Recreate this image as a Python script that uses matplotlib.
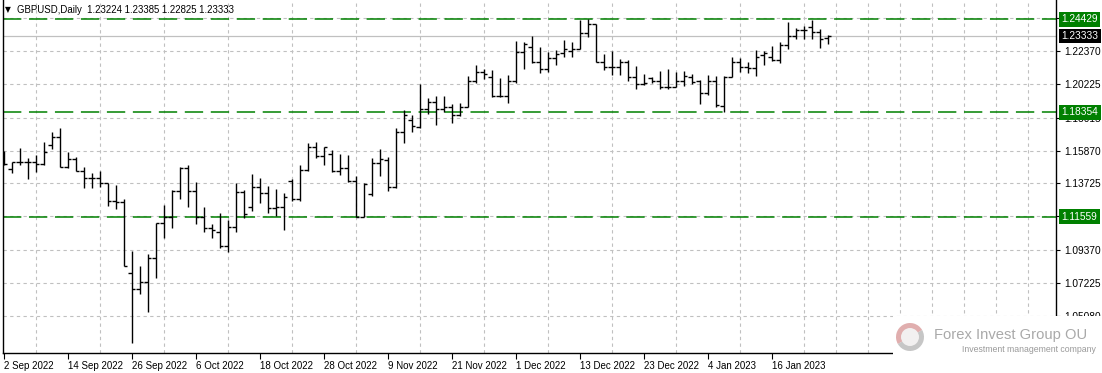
import matplotlib.pyplot as plt
from matplotlib.patches import Rectangle, Wedge, Circle

# GBPUSD daily bars, 2 Sep 2022 .. 25 Jan 2023
opens = [1.1513, 1.1465, 1.1511, 1.1511, 1.1511, 1.1500, 1.1624, 1.1674, 1.1483, 1.1530,
         1.1457, 1.1407, 1.1411, 1.1378, 1.1259, 1.1250, 1.0787, 1.0683, 1.0729, 1.0885,
         1.1113, 1.1157, 1.1324, 1.1472, 1.1324, 1.1157, 1.1081, 1.1054, 1.0965, 1.1091,
         1.1320, 1.1222, 1.1352, 1.1309, 1.1211, 1.1217, 1.1391, 1.1272, 1.1459, 1.1611,
         1.1552, 1.1565, 1.1454, 1.1476, 1.1387, 1.1157, 1.1302, 1.1506, 1.1526, 1.1352,
         1.1706, 1.1787, 1.1743, 1.1856, 1.1904, 1.1856, 1.1874, 1.1817, 1.1874, 1.2043,
         1.2098, 1.2069, 1.1945, 1.1943, 1.2043, 1.2228, 1.2263, 1.2167, 1.2121, 1.2189,
         1.2221, 1.2234, 1.2252, 1.2352, 1.2413, 1.2167, 1.2134, 1.2134, 1.2163, 1.2065,
         1.2021, 1.2058, 1.2043, 1.2004, 1.2004, 1.2041, 1.2069, 1.2043, 1.1961, 1.2043,
         1.1878, 1.2069, 1.2163, 1.2134, 1.2128, 1.2210, 1.2200, 1.2178, 1.2276, 1.2334,
         1.2373, 1.2395, 1.2363, 1.23224]
highs = [1.1587, 1.1515, 1.1602, 1.1537, 1.1559, 1.1641, 1.1706, 1.1732, 1.1580, 1.1548,
         1.1478, 1.1439, 1.1457, 1.1378, 1.1363, 1.1270, 1.0933, 1.0835, 1.0913, 1.1113,
         1.1233, 1.1330, 1.1483, 1.1493, 1.1380, 1.1222, 1.1107, 1.1178, 1.1135, 1.1378,
         1.1330, 1.1435, 1.1407, 1.1359, 1.1337, 1.1309, 1.1400, 1.1493, 1.1639, 1.1641,
         1.1613, 1.1591, 1.1565, 1.1556, 1.1422, 1.1378, 1.1541, 1.1596, 1.1548, 1.1732,
         1.1852, 1.1819, 1.2021, 1.1932, 1.1943, 1.1943, 1.1889, 1.1895, 1.2074, 1.2145,
         1.2119, 1.2113, 1.2058, 1.2078, 1.2304, 1.2293, 1.2334, 1.2261, 1.2232, 1.2243,
         1.2308, 1.2293, 1.2440, 1.2443, 1.2413, 1.2217, 1.2237, 1.2184, 1.2178, 1.2139,
         1.2087, 1.2065, 1.2106, 1.2119, 1.2097, 1.2106, 1.2087, 1.2047, 1.2080, 1.2076,
         1.2074, 1.2200, 1.2189, 1.2167, 1.2243, 1.2237, 1.2271, 1.2293, 1.2428, 1.2384,
         1.2400, 1.2440, 1.2380, 1.23385]
lows = [1.1493, 1.1439, 1.1493, 1.1400, 1.1450, 1.1493, 1.1596, 1.1483, 1.1472, 1.1457,
        1.1346, 1.1346, 1.1348, 1.1228, 1.1207, 1.0837, 1.0331, 1.0650, 1.0537, 1.0759,
        1.1020, 1.1081, 1.1272, 1.1222, 1.1107, 1.1054, 1.1015, 1.0950, 1.0924, 1.1054,
        1.1146, 1.1196, 1.1248, 1.1178, 1.1163, 1.1070, 1.1261, 1.1261, 1.1454, 1.1541,
        1.1493, 1.1450, 1.1428, 1.1383, 1.1156, 1.1152, 1.1293, 1.1424, 1.1326, 1.1341,
        1.1639, 1.1706, 1.1732, 1.1824, 1.1754, 1.1841, 1.1769, 1.1813, 1.1869, 1.2030,
        1.2052, 1.1934, 1.1939, 1.1895, 1.2030, 1.2119, 1.2156, 1.2095, 1.2100, 1.2143,
        1.2200, 1.2197, 1.2247, 1.2330, 1.2163, 1.2113, 1.2080, 1.2080, 1.2043, 1.1987,
        1.2013, 1.2030, 1.1991, 1.1991, 1.2000, 1.2011, 1.2021, 1.1891, 1.1950, 1.1874,
        1.18354, 1.2065, 1.2102, 1.2091, 1.2076, 1.2145, 1.2171, 1.2156, 1.2247, 1.2313,
        1.2313, 1.2313, 1.2254, 1.22825]
closes = [1.1500, 1.1511, 1.1511, 1.1511, 1.1500, 1.1576, 1.1674, 1.1483, 1.1530, 1.1457,
          1.1411, 1.1411, 1.1378, 1.1259, 1.1254, 1.0837, 1.0683, 1.0729, 1.0885, 1.1113,
          1.1157, 1.1324, 1.1472, 1.1324, 1.1157, 1.1085, 1.1070, 1.0965, 1.1091, 1.1320,
          1.1172, 1.1352, 1.1309, 1.1211, 1.1217, 1.1283, 1.1272, 1.1459, 1.1611, 1.1552,
          1.1611, 1.1454, 1.1476, 1.1387, 1.1157, 1.1372, 1.1506, 1.1530, 1.1352, 1.1706,
          1.1822, 1.1750, 1.1856, 1.1904, 1.1856, 1.1874, 1.1817, 1.1874, 1.2043, 1.2098,
          1.2087, 1.1945, 1.1943, 1.2043, 1.2228, 1.2284, 1.2167, 1.2121, 1.2189, 1.2217,
          1.2250, 1.2252, 1.2352, 1.2413, 1.2167, 1.2134, 1.2134, 1.2163, 1.2065, 1.2021,
          1.2026, 1.2043, 1.2000, 1.2004, 1.2043, 1.2076, 1.2037, 1.1961, 1.2043, 1.1885,
          1.2069, 1.2163, 1.2130, 1.2128, 1.2195, 1.2221, 1.2178, 1.2276, 1.2334, 1.2373,
          1.2373, 1.2363, 1.2315, 1.23333]

date_ticks = [0, 8, 16, 24, 32, 40, 48, 56, 64, 72, 80, 88, 96]
date_labels = ["2 Sep 2022", "14 Sep 2022", "26 Sep 2022", "6 Oct 2022", "18 Oct 2022",
               "28 Oct 2022", "9 Nov 2022", "21 Nov 2022", "1 Dec 2022", "13 Dec 2022",
               "23 Dec 2022", "4 Jan 2023", "16 Jan 2023"]
price_ticks = [1.24515, 1.22370, 1.20225, 1.18015, 1.15870, 1.13725, 1.11580, 1.09370, 1.07225, 1.05080]
levels = [1.24429, 1.18354, 1.11559]
last_price = 1.23333

W, H = 1102, 373
fig = plt.figure(figsize=(W / 100, H / 100), dpi=100)
fig.patch.set_facecolor("white")
ax = fig.add_axes([2.5 / W, 20 / H, (1056 - 2.5) / W, 353 / H])

x = list(range(len(opens)))
ax.vlines(x, lows, highs, color="black", lw=1.0, zorder=3)
ax.hlines(opens, [i - 0.42 for i in x], x, color="black", lw=1.0, zorder=3)
ax.hlines(closes, x, [i + 0.42 for i in x], color="black", lw=1.0, zorder=3)

for lv in levels:
    ax.axhline(lv, color="#008000", lw=1.1, dashes=(12, 5), zorder=2)
ax.axhline(last_price, color="#c0c0c0", lw=0.9, zorder=1)

ax.set_xlim(-0.125, 131.56)
ax.set_ylim(1.02672, 1.25687)

ax.set_xticks(date_ticks)
ax.set_xticklabels(date_labels)
ax.set_xticks(range(0, 132, 4), minor=True)
ax.yaxis.tick_right()
ax.set_yticks(price_ticks)
ax.set_yticklabels(["" if p in (1.24515, 1.11580) else f"{p:.5f}" for p in price_ticks])
ax.tick_params(axis="x", which="major", length=4, width=0.8, pad=2, labelsize=7.0)
ax.tick_params(axis="x", which="minor", length=0)
ax.tick_params(axis="y", length=3, width=0.8, pad=3, labelsize=7.3)
for lab in ax.get_xticklabels():
    lab.set_ha("left")
for lab in ax.get_xticklabels() + ax.get_yticklabels():
    lab.set_family("Liberation Sans")

ax.grid(True, which="minor", axis="x", color="#c0c0c0", lw=0.8, dashes=(3, 3))
ax.grid(True, which="major", axis="y", color="#c0c0c0", lw=0.8, dashes=(3, 3))
ax.set_axisbelow(True)
ax.spines["top"].set_visible(False)
for s in ("left", "right", "bottom"):
    ax.spines[s].set_color("black")
    ax.spines[s].set_linewidth(1.0)

# price labels on the right scale
for lv, fc in [(levels[0], "#008000"), (levels[1], "#008000"), (levels[2], "#008000"), (last_price, "black")]:
    ax.annotate(f"{lv:.5f}", xy=(1.0, lv), xycoords=("axes fraction", "data"),
                xytext=(4, 0), textcoords="offset points", ha="left", va="center",
                fontsize=7.3, family="Liberation Sans", color="white", zorder=6,
                bbox=dict(boxstyle="square,pad=0.22", fc=fc, ec="none"),
                annotation_clip=False)

# header
fig.text(5 / W, 1 - 10 / H, "\u25bc", fontsize=5.5, va="center", ha="left")
fig.text(17 / W, 1 - 10 / H, "GBPUSD,Daily  1.23224 1.23385 1.22825 1.23333",
         fontsize=6.9, family="Liberation Sans", va="center", ha="left")

# watermark block bottom right
fig.patches.append(Rectangle((893 / W, 0), (W - 893) / W, 57 / H, transform=fig.transFigure,
                             fc="white", ec="none", zorder=10))
fig.patches.append(Wedge((910, H - 337), 14, 30, 210, width=6, transform=None,
                         fc="#d99a9a", ec="none", zorder=11, alpha=0.8))
fig.patches.append(Wedge((910, H - 337), 14, 210, 390, width=6, transform=None,
                         fc="#b8b8b8", ec="none", zorder=11, alpha=0.8))
fig.patches.append(Circle((910, H - 337), 9, transform=None, fc="#f2f0f0", ec="none", zorder=12))
fig.text(1087 / W, 1 - 335 / H, "Forex Invest Group OU", fontsize=10.6, color="#a9a9a9",
         family="Liberation Sans", va="center", ha="right", zorder=13)
fig.text(1096 / W, 1 - 349 / H, "Investment management company", fontsize=6.3, color="#9a9a9a",
         family="Liberation Sans", va="center", ha="right", zorder=13)

fig.savefig("out.png", dpi=100, facecolor="white")
